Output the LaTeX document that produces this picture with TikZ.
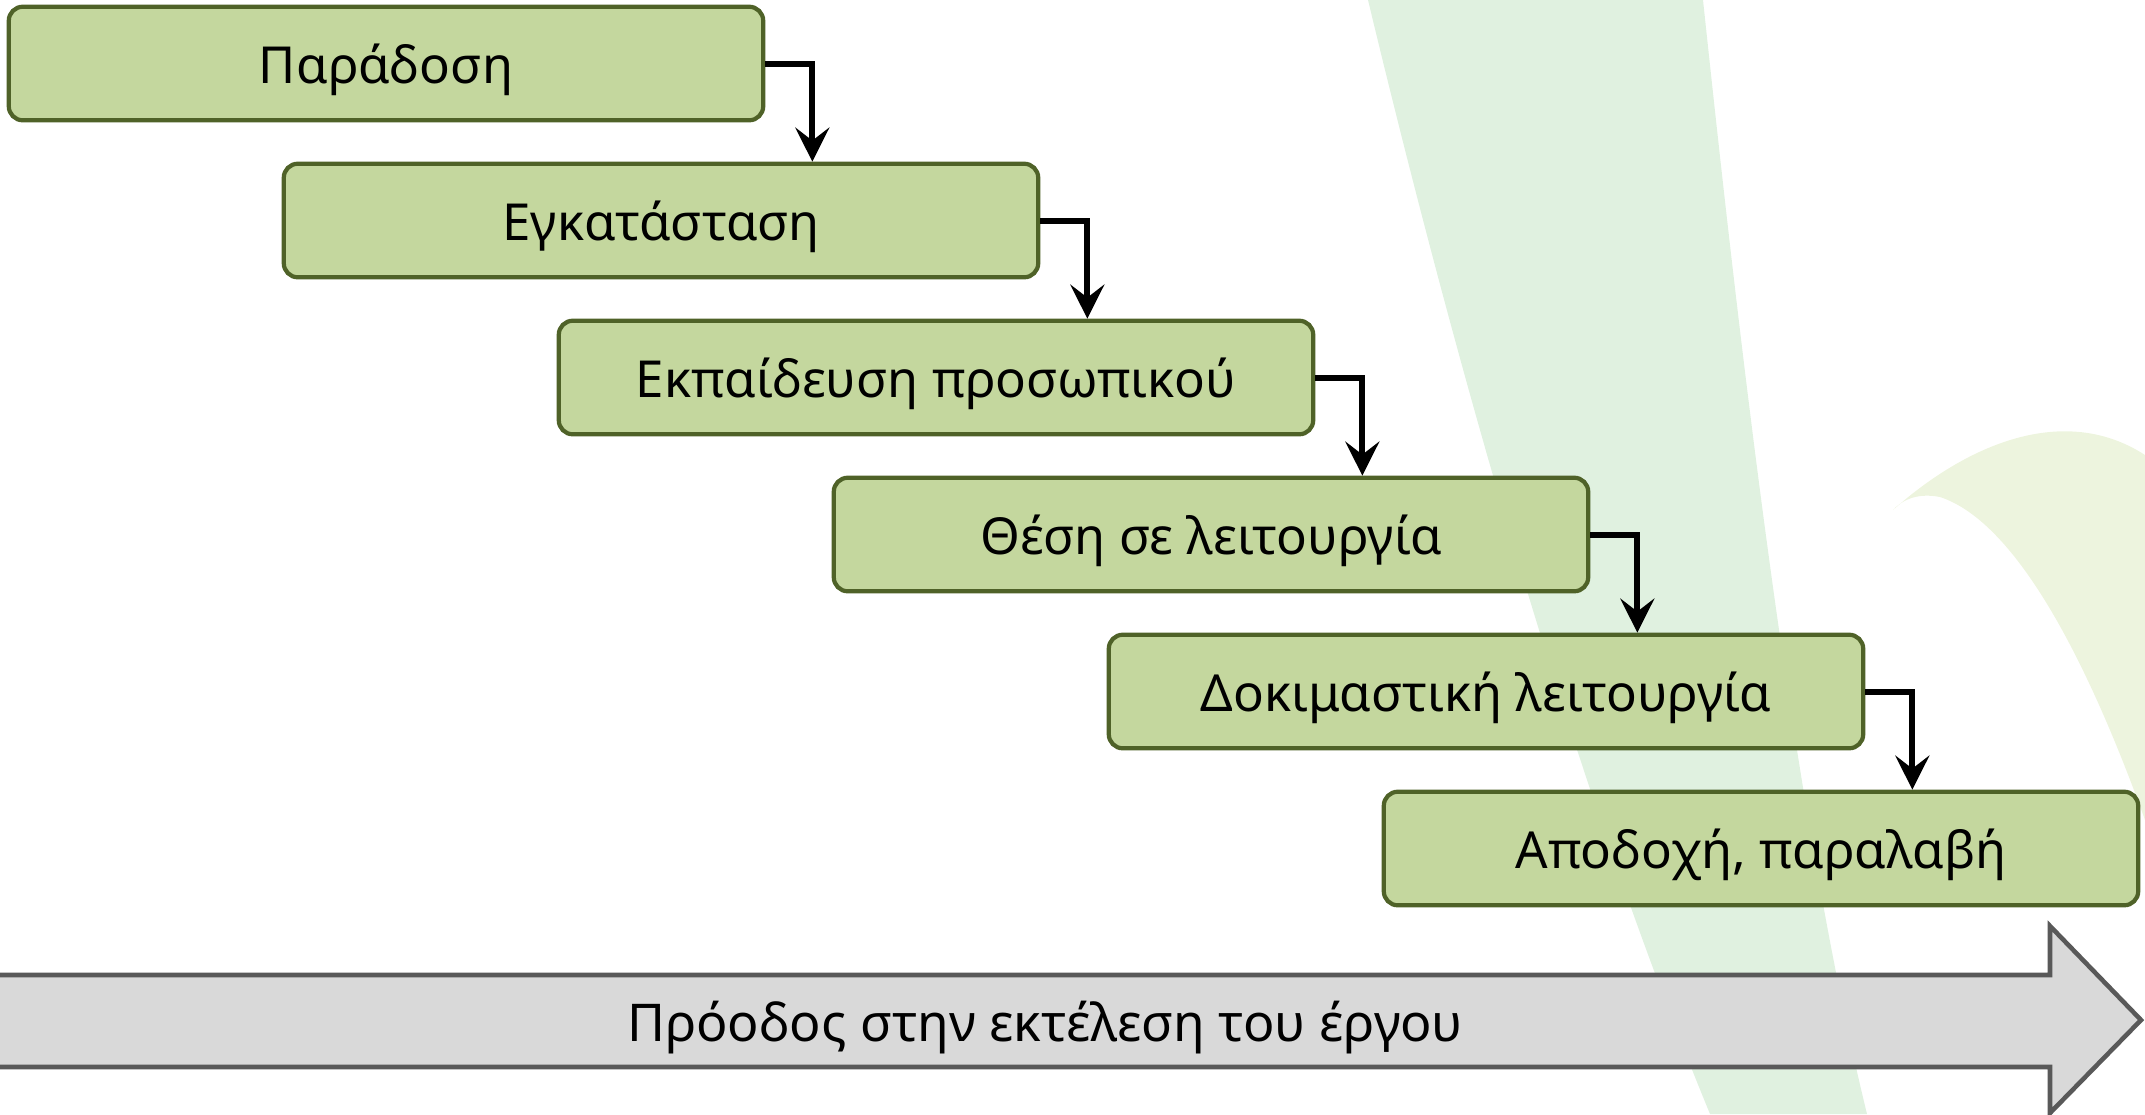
\documentclass[tikz,border=0pt]{standalone}
\usepackage{fontspec}
\setmainfont{Noto Sans}
\usetikzlibrary{arrows.meta}

\definecolor{stagefill}{HTML}{C4D79E}
\definecolor{stageline}{HTML}{4F6228}
\definecolor{bandgreen}{HTML}{E0F1E0}
\definecolor{leafgreen}{HTML}{EDF4DE}
\definecolor{progfill}{HTML}{D9D9D9}
\definecolor{progline}{HTML}{595959}

\begin{document}
\begin{tikzpicture}[x=0.01cm,y=-0.01cm,
    stage/.style={draw=stageline, line width=1.2pt, fill=stagefill, rounded corners=0.14cm,
        minimum width=7.54cm, minimum height=1.135cm, inner sep=0pt,
        text height=11.2pt, text depth=0pt, font=\fontsize{14.5}{17}\selectfont},
    flow/.style={-{Stealth[length=0.34cm,width=0.34cm,inset=0.13cm]}, line width=1.7pt, black}]
    \useasboundingbox (0,0) rectangle (2145,1114);
    % BACKGROUND: pale band and leaf
    \fill[bandgreen] (1368,0) .. controls (1440,300) and (1560,750) .. (1710,1114)
        -- (1867,1114) .. controls (1790,800) and (1735,300) .. (1703,0) -- cycle;
    \fill[leafgreen] (1893,510) .. controls (1960,450) and (2060,400) .. (2145,455)
        -- (2145,820) .. controls (2080,640) and (2010,520) .. (1940,497)
        .. controls (1915,492) and (1900,502) .. (1893,510) -- cycle;
    % STAGES
    \node[stage] (deliv)   at (386,63.5)   {Παράδοση};
    \node[stage] (install) at (661,220.5)  {Εγκατάσταση};
    \node[stage] (train)   at (936,377.5)  {Εκπαίδευση προσωπικού};
    \node[stage] (operate) at (1211,534.5) {Θέση σε λειτουργία};
    \node[stage] (trial)   at (1486,691.5) {Δοκιμαστική λειτουργία};
    \node[stage] (accept)  at (1761,848.5) {Αποδοχή, παραλαβή};
    % Connectors between stages
    \draw[flow] (deliv.east) -- ++(47,0) coordinate (k1) -- (k1 |- install.north);
    \draw[flow] (install.east) -- ++(47,0) coordinate (k2) -- (k2 |- train.north);
    \draw[flow] (train.east) -- ++(47,0) coordinate (k3) -- (k3 |- operate.north);
    \draw[flow] (operate.east) -- ++(47,0) coordinate (k4) -- (k4 |- trial.north);
    \draw[flow] (trial.east) -- ++(47,0) coordinate (k5) -- (k5 |- accept.north);
    % BOTTOM: progress arrow
    \filldraw[fill=progfill, draw=progline, line width=1.3pt, line join=miter]
        (-20,975) -- (2050,975) -- (2050,926) -- (2141,1020) -- (2050,1113)
        -- (2050,1067) -- (-20,1067) -- cycle;
    \node[font=\fontsize{14.8}{17}\selectfont, text height=11.4pt, text depth=0pt, inner sep=0pt]
        (progress) at (1045,1021) {Πρόοδος στην εκτέλεση του έργου};
\end{tikzpicture}
\end{document}
